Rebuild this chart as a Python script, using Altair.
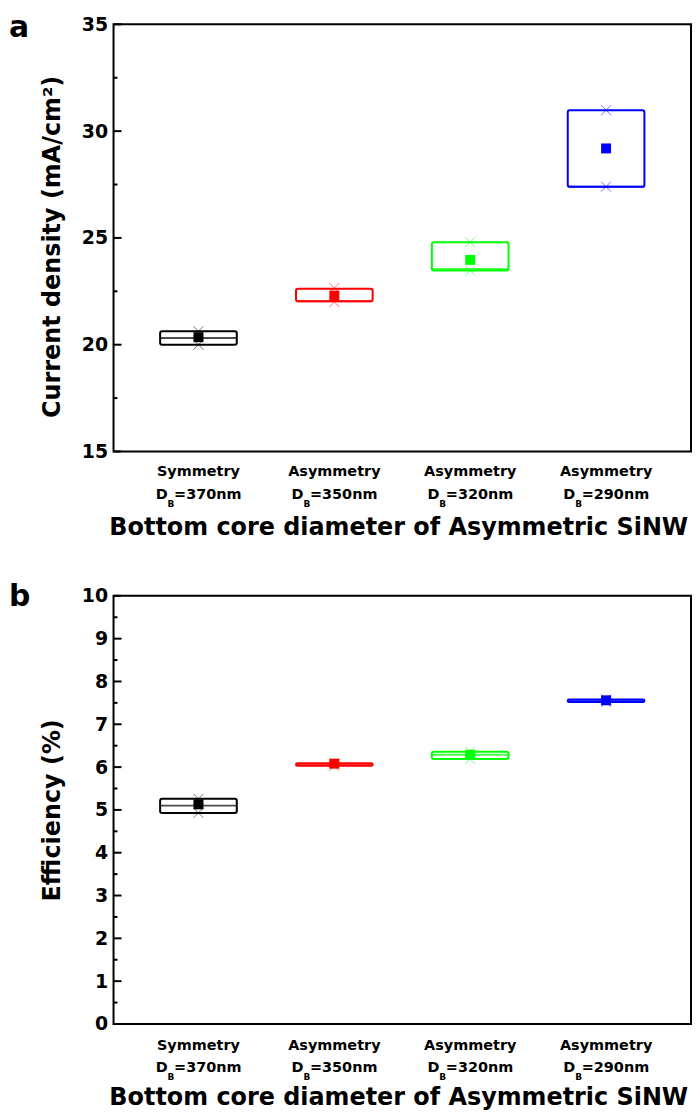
import altair as alt
import pandas as pd

# ---------------- data ----------------
categories = ["370", "350", "320", "290"]
line1 = ["Symmetry", "Asymmetry", "Asymmetry", "Asymmetry"]
line2_rest = ["=370nm", "=350nm", "=320nm", "=290nm"]
colors = ["#000000", "#ff0000", "#00ff00", "#0000ff"]

# (a) current density, mA/cm2
jsc_q1 = [20.00, 22.03, 23.47, 27.40]
jsc_q3 = [20.63, 22.62, 24.80, 30.98]
jsc_median = [20.31, 22.03, 23.55, 27.40]
jsc_mean = [20.35, 22.30, 23.97, 29.19]
jsc_min = [20.00, 22.00, 23.47, 27.40]
jsc_max = [20.63, 22.65, 24.80, 30.98]
jsc_major = [15, 20, 25, 30, 35]
jsc_minor = [17.5, 22.5, 27.5, 32.5]

# (b) efficiency, %
eff_q1 = [4.93, 6.03, 6.19, 7.52]
eff_q3 = [5.26, 6.09, 6.36, 7.58]
eff_median = [5.10, 6.06, 6.29, 7.55]
eff_mean = [5.13, 6.08, 6.29, 7.56]
eff_min = [4.93, 6.03, 6.19, 7.52]
eff_max = [5.26, 6.09, 6.36, 7.58]
eff_major = [0, 1, 2, 3, 4, 5, 6, 7, 8, 9, 10]
eff_minor = [0.5, 1.5, 2.5, 3.5, 4.5, 5.5, 6.5, 7.5, 8.5, 9.5]

FONT = "DejaVu Sans"
W = 580
XTITLE = "Bottom core diameter of Asymmetric SiNW"
XMARK = "M-1,-1L1,1M-1,1L1,-1"


def panel(letter, q1, q3, med, mean, mn, mx, major, minor, domain,
          ytitle, ytitle_y, H, l1_off, l2_off, sub_off, xtitle_off, letter_y):
    df = pd.DataFrame({
        "cat": categories, "line1": line1, "rest": line2_rest, "color": colors,
        "q1": q1, "q3": q3, "med": med, "mean": mean, "mn": mn, "mx": mx,
    })
    yscale = alt.Scale(domain=domain, nice=False, zero=False)
    xenc = alt.X(
        "cat:N", sort=categories, title=XTITLE,
        scale=alt.Scale(type="point", padding=0.625),
        axis=alt.Axis(labels=False, ticks=False, tickSize=0, domain=False, grid=False,
                      titleFont=FONT, titleFontSize=24, titleFontWeight="bold",
                      titleColor="black", titleBaseline="alphabetic",
                      titleY=xtitle_off, titleX=286),
    )
    xplain = alt.X("cat:N", sort=categories, title=XTITLE)
    col = alt.Color("color:N", scale=None)

    base = alt.Chart(df)
    box = base.mark_bar(filled=False, strokeWidth=2, width=77, cornerRadius=2).encode(
        x=xenc,
        y=alt.Y("q1:Q", scale=yscale, title=ytitle,
                axis=alt.Axis(values=major, ticks=False, tickSize=0, domain=False,
                              grid=False, labelFont=FONT, labelFontSize=19,
                              labelFontWeight="bold", labelColor="black",
                              labelPadding=6, titleFont=FONT, titleFontSize=24,
                              titleFontWeight="bold", titleColor="black",
                              titleBaseline="alphabetic", titleX=-54,
                              titleY=ytitle_y)),
        y2="q3:Q",
        color=col,
    )
    median = base.mark_tick(thickness=2, size=77).encode(
        x=xplain, y=alt.Y("med:Q", title=ytitle), color=col)
    xlo = base.mark_point(shape=XMARK, size=100, filled=False, strokeWidth=1,
                          opacity=0.55).encode(
        x=xplain, y=alt.Y("mn:Q", title=ytitle), color=col)
    xhi = base.mark_point(shape=XMARK, size=100, filled=False, strokeWidth=1,
                          opacity=0.55).encode(
        x=xplain, y=alt.Y("mx:Q", title=ytitle), color=col)
    meanpt = base.mark_square(size=100, opacity=1).encode(
        x=xplain, y=alt.Y("mean:Q", title=ytitle), color=col)

    majt = alt.Chart(pd.DataFrame({"v": major})).mark_rule(
        color="black", strokeWidth=2).encode(
        y=alt.Y("v:Q", title=ytitle), x=alt.value(0), x2=alt.value(8))
    mint = alt.Chart(pd.DataFrame({"v": minor})).mark_rule(
        color="black", strokeWidth=2).encode(
        y=alt.Y("v:Q", title=ytitle), x=alt.value(0), x2=alt.value(4))

    tstyle = dict(font=FONT, fontWeight="bold", color="black", baseline="alphabetic")
    t1 = base.mark_text(fontSize=14.5, align="center", **tstyle).encode(
        x=xplain, text="line1:N", y=alt.value(H + l1_off))
    tD = base.mark_text(text="D", fontSize=14.5, align="left", dx=-43, **tstyle).encode(
        x=xplain, y=alt.value(H + l2_off))
    tB = base.mark_text(text="B", fontSize=9, align="left", dx=-31, **tstyle).encode(
        x=xplain, y=alt.value(H + sub_off))
    tR = base.mark_text(fontSize=14.5, align="left", dx=-24.5, **tstyle).encode(
        x=xplain, text="rest:N", y=alt.value(H + l2_off))

    let = alt.Chart(pd.DataFrame({"letter": [letter]})).mark_text(
        fontSize=30, align="left", **tstyle).encode(
        text="letter:N", x=alt.value(-105), y=alt.value(letter_y))

    return alt.layer(box, median, xlo, xhi, meanpt, majt, mint,
                     t1, tD, tB, tR, let).properties(width=W, height=H)


pa = panel("a", jsc_q1, jsc_q3, jsc_median, jsc_mean, jsc_min, jsc_max,
           jsc_major, jsc_minor, [15, 35], "Current density (mA/cm²)", 223,
           429, 25, 48, 56, 83, 13)
pb = panel("b", eff_q1, eff_q3, eff_median, eff_mean, eff_min, eff_max,
           eff_major, eff_minor, [0, 10], "Efficiency (%)", 215,
           430, 26, 48.7, 56.5, 81, 10)

chart = alt.vconcat(pa, pb, spacing=41).properties(
    padding={"top": 2, "left": 0, "right": 0, "bottom": 0}
).configure_view(stroke="black", strokeWidth=2)

chart.save("out.html", embed_options={"renderer": "svg", "actions": False})
